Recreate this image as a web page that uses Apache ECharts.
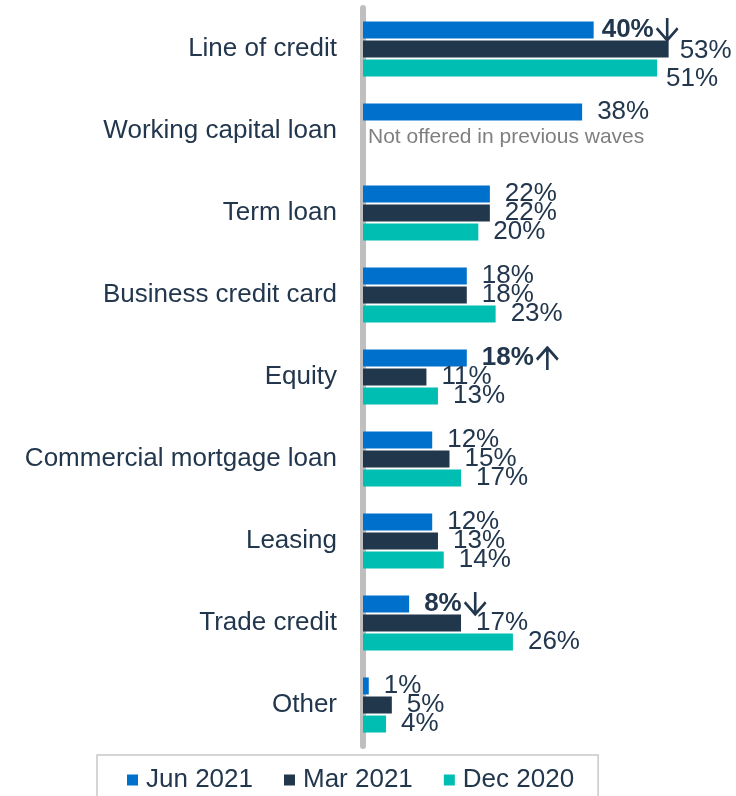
<!DOCTYPE html>
<html>
<head>
<meta charset="utf-8">
<script src="https://cdn.jsdelivr.net/npm/echarts@6/dist/echarts.min.js"></script>
<style>
  html, body { margin: 0; padding: 0; background: #ffffff; }
  #chart { width: 736px; height: 796px; }
</style>
</head>
<body>
<div id="chart"></div>
<script>
// Financing types, listed top to bottom
const categories = [
  'Line of credit',
  'Working capital loan',
  'Term loan',
  'Business credit card',
  'Equity',
  'Commercial mortgage loan',
  'Leasing',
  'Trade credit',
  'Other'
];

// Share of businesses (%) per survey wave; null = not asked in that wave
const jun2021 = [40, 38, 22, 18, 18, 12, 12, 8, 1];
const mar2021 = [53, null, 22, 18, 11, 15, 13, 17, 5];
const dec2020 = [51, null, 20, 23, 13, 17, 14, 26, 4];

const seriesNames = ['Jun 2021', 'Mar 2021', 'Dec 2020'];

// Significant changes vs. previous wave: 'up' / 'down'
const jun2021Change = ['down', null, null, null, 'up', null, null, 'down', null];

const notOfferedNote = 'Not offered in previous waves';

const COLORS = ['#0070CD', '#21374C', '#00BFB2'];
const TEXT = '#22374D';
const FONT = 'Liberation Sans, Arial, sans-serif';
const FS = 26;

// Arrow icons (thin shaft, wide open head) drawn as inline SVG
function arrowIcon(dir) {
  const path = dir === 'down'
    ? '<path d="M13.5 0 V19.5 M3 9 L13.5 19.5 L24 9"/>'
    : '<path d="M13.5 21 V1.5 M3 12 L13.5 1.5 L24 12"/>';
  const svg = '<svg xmlns="http://www.w3.org/2000/svg" width="25" height="21" viewBox="0 0 25 21">' +
    '<g fill="none" stroke="' + TEXT + '" stroke-width="2.6">' + path + '</g></svg>';
  return 'data:image/svg+xml;charset=utf-8,' + encodeURIComponent(svg);
}

const chart = echarts.init(document.getElementById('chart'), null, { renderer: 'canvas' });

function junData() {
  return jun2021.map((v, i) => {
    const change = jun2021Change[i];
    if (!change) return v;
    return {
      value: v,
      label: {
        distance: i === 0 ? 8 : 15,
        formatter: '{b|' + v + '%}{a| }',
        rich: {
          b: { fontFamily: FONT, fontSize: FS, fontWeight: 'bold', color: TEXT },
          a: {
            width: 25,
            height: 21,
            padding: [0, 0, 3, 0],
            backgroundColor: { image: arrowIcon(change) }
          }
        }
      }
    };
  });
}

function marData() {
  return mar2021.map((v, i) => {
    if (v === null && i === 1) {
      // Zero-length bar carries the note in this wave's slot
      return {
        value: 0,
        label: {
          formatter: notOfferedNote,
          color: '#7F7F7F',
          fontSize: 21,
          distance: 5,
          offset: [0, 6]
        }
      };
    }
    if (i === 0) {
      return { value: v, label: { distance: 11, offset: [0, 2] } };
    }
    return v;
  });
}

function decData() {
  return dec2020.map((v, i) => {
    if (i === 0) {
      return { value: v, label: { distance: 9, offset: [0, 11] } };
    }
    return v;
  });
}

const baseLabel = {
  show: true,
  position: 'right',
  distance: 15,
  color: TEXT,
  fontFamily: FONT,
  fontSize: FS,
  formatter: p => (p.value === null || p.value === undefined) ? '' : p.value + '%'
};

const option = {
  animation: false,
  backgroundColor: '#ffffff',
  textStyle: { fontFamily: FONT },
  grid: {
    left: 363,
    right: 27,
    top: 8,
    bottom: 50,
    containLabel: false
  },
  xAxis: {
    type: 'value',
    min: 0,
    max: 60,
    show: false
  },
  yAxis: {
    type: 'category',
    data: categories,
    inverse: true,
    offset: 3,
    axisLine: { show: true, lineStyle: { color: '#BFBFBF', width: 6 } },
    axisTick: { show: false },
    axisLabel: {
      margin: 23,
      color: TEXT,
      fontFamily: FONT,
      fontSize: FS
    },
    splitLine: { show: false }
  },
  legend: {
    data: seriesNames,
    left: 97,
    top: 755,
    orient: 'horizontal',
    icon: 'rect',
    itemWidth: 11,
    itemHeight: 11,
    itemGap: 31,
    padding: [12, 24, 40, 30],
    borderColor: '#C8C8C8',
    borderWidth: 1.5,
    textStyle: {
      color: TEXT,
      fontFamily: FONT,
      fontSize: FS,
      padding: [0, 0, 0, 3]
    }
  },
  series: [
    {
      name: seriesNames[0],
      type: 'bar',
      data: junData(),
      barWidth: 17,
      barGap: '12%',
      itemStyle: { color: COLORS[0] },
      label: baseLabel
    },
    {
      name: seriesNames[1],
      type: 'bar',
      data: marData(),
      barWidth: 17,
      barGap: '12%',
      itemStyle: { color: COLORS[1] },
      label: baseLabel
    },
    {
      name: seriesNames[2],
      type: 'bar',
      data: decData(),
      barWidth: 17,
      barGap: '12%',
      itemStyle: { color: COLORS[2] },
      label: baseLabel
    }
  ]
};

chart.setOption(option);
</script>
</body>
</html>
